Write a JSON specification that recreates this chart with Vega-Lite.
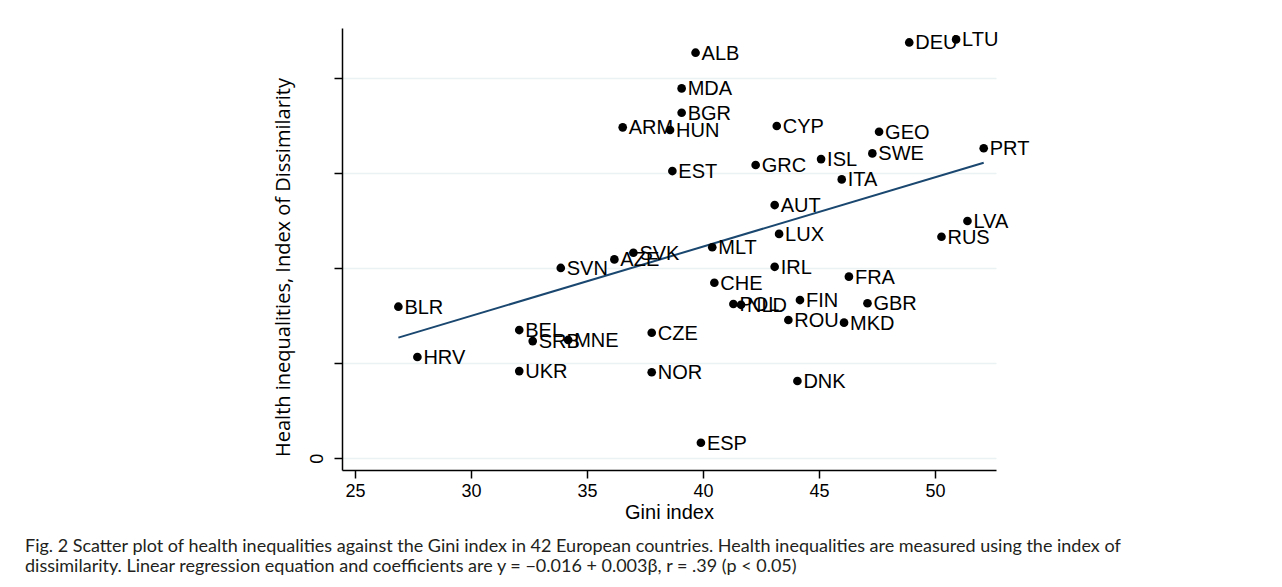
{
  "$schema": "https://vega.github.io/schema/vega-lite/v6.json",
  "width": 654,
  "height": 442,
  "autosize": {"type": "none"},
  "padding": {"left": 342, "top": 28, "right": 286, "bottom": 117},
  "background": "white",
  "config": {"view": {"stroke": null}, "font": "Liberation Sans"},
  "title": {
    "text": [
      "Fig. 2 Scatter plot of health inequalities against the Gini index in 42 European countries. Health inequalities are measured using the index of",
      "dissimilarity. Linear regression equation and coefficients are y = −0.016 + 0.003β, r = .39 (p < 0.05)"
    ],
    "orient": "bottom",
    "anchor": "start",
    "frame": "group",
    "dx": -317,
    "offset": 16,
    "font": "Lato",
    "fontSize": 18,
    "fontWeight": "normal",
    "color": "#231f20",
    "lineHeight": 19.5
  },
  "datasets": {
    "fit": [
      {"gini": 26.87, "hi": 0.0635},
      {"gini": 52.1, "hi": 0.1556}
    ],
    "countries": [
      {"code": "ALB", "gini": 39.68, "hi": 0.2135},
      {"code": "DEU", "gini": 48.89, "hi": 0.2189},
      {"code": "LTU", "gini": 50.91, "hi": 0.2205},
      {"code": "MDA", "gini": 39.08, "hi": 0.1947},
      {"code": "BGR", "gini": 39.08, "hi": 0.1819},
      {"code": "HUN", "gini": 38.58, "hi": 0.1728},
      {"code": "ARM", "gini": 36.54, "hi": 0.1742},
      {"code": "CYP", "gini": 43.18, "hi": 0.1749},
      {"code": "GEO", "gini": 47.59, "hi": 0.1719},
      {"code": "SWE", "gini": 47.3, "hi": 0.1605},
      {"code": "PRT", "gini": 52.1, "hi": 0.1632},
      {"code": "ISL", "gini": 45.09, "hi": 0.1575},
      {"code": "GRC", "gini": 42.27, "hi": 0.1544},
      {"code": "EST", "gini": 38.68, "hi": 0.1512},
      {"code": "ITA", "gini": 45.98, "hi": 0.1468},
      {"code": "AUT", "gini": 43.09, "hi": 0.1333},
      {"code": "LVA", "gini": 51.4, "hi": 0.1249},
      {"code": "RUS", "gini": 50.28, "hi": 0.1166},
      {"code": "LUX", "gini": 43.28, "hi": 0.1181},
      {"code": "MLT", "gini": 40.4, "hi": 0.1111},
      {"code": "SVK", "gini": 37.0, "hi": 0.1082},
      {"code": "AZE", "gini": 36.18, "hi": 0.1047},
      {"code": "SVN", "gini": 33.87, "hi": 0.1002},
      {"code": "IRL", "gini": 43.09, "hi": 0.1008},
      {"code": "FRA", "gini": 46.29, "hi": 0.0956},
      {"code": "CHE", "gini": 40.49, "hi": 0.0924},
      {"code": "POL", "gini": 41.31, "hi": 0.0812},
      {"code": "NLD", "gini": 41.64, "hi": 0.0808},
      {"code": "FIN", "gini": 44.18, "hi": 0.0833},
      {"code": "GBR", "gini": 47.09, "hi": 0.0816},
      {"code": "BLR", "gini": 26.87, "hi": 0.0798},
      {"code": "BEL", "gini": 32.08, "hi": 0.0675},
      {"code": "SRB", "gini": 32.66, "hi": 0.0617},
      {"code": "MNE", "gini": 34.19, "hi": 0.0623},
      {"code": "ROU", "gini": 43.68, "hi": 0.0728},
      {"code": "MKD", "gini": 46.08, "hi": 0.0714},
      {"code": "CZE", "gini": 37.79, "hi": 0.0661},
      {"code": "HRV", "gini": 27.69, "hi": 0.0533},
      {"code": "UKR", "gini": 32.08, "hi": 0.0459},
      {"code": "NOR", "gini": 37.79, "hi": 0.0453},
      {"code": "DNK", "gini": 44.07, "hi": 0.0407},
      {"code": "ESP", "gini": 39.91, "hi": 0.0082}
    ]
  },
  "encoding": {
    "x": {
      "field": "gini",
      "type": "quantitative",
      "scale": {"domain": [24.44, 52.63], "nice": false, "zero": false},
      "axis": {
        "values": [25, 30, 35, 40, 45, 50],
        "title": "Gini index",
        "titleFont": "Liberation Sans",
        "titleFontSize": 20,
        "titleFontWeight": "normal",
        "titleColor": "black",
        "titlePadding": 2,
        "labelFont": "Liberation Sans",
        "labelFontSize": 18,
        "labelColor": "black",
        "labelPadding": 4,
        "labelFlush": false,
        "tickSize": 8,
        "tickColor": "black",
        "tickWidth": 1.5,
        "domainColor": "black",
        "domainWidth": 1.5,
        "grid": false
      }
    },
    "y": {
      "field": "hi",
      "type": "quantitative",
      "scale": {"domain": [-0.00616, 0.2265], "nice": false, "zero": false},
      "axis": {
        "values": [0, 0.05, 0.1, 0.15, 0.2],
        "labelExpr": "datum.value == 0 ? '0' : ''",
        "labelAngle": -90,
        "labelFont": "Liberation Sans",
        "labelFontSize": 18,
        "labelColor": "black",
        "labelPadding": 8,
        "tickSize": 8,
        "tickColor": "black",
        "tickWidth": 1.5,
        "domainColor": "black",
        "domainWidth": 1.5,
        "grid": true,
        "gridColor": "#eaf2f3",
        "gridWidth": 1.5,
        "title": "Health inequalities, Index of Dissimilarity",
        "titleFont": "Open Sans",
        "titleFontSize": 20,
        "titleFontWeight": "normal",
        "titleColor": "black",
        "titleAngle": -90,
        "titleAlign": "center",
        "titleBaseline": "middle",
        "titleX": -59,
        "titleY": 239
      }
    }
  },
  "layer": [
    {
      "data": {"name": "fit"},
      "mark": {"type": "line", "color": "#1a476f", "strokeWidth": 2}
    },
    {
      "data": {"name": "countries"},
      "mark": {"type": "circle", "size": 75, "color": "black", "opacity": 1}
    },
    {
      "data": {"name": "countries"},
      "mark": {"type": "text", "align": "left", "baseline": "middle", "dx": 6, "dy": 1, "fontSize": 20, "font": "Liberation Sans", "color": "black"},
      "encoding": {"text": {"field": "code", "type": "nominal"}}
    }
  ]
}
